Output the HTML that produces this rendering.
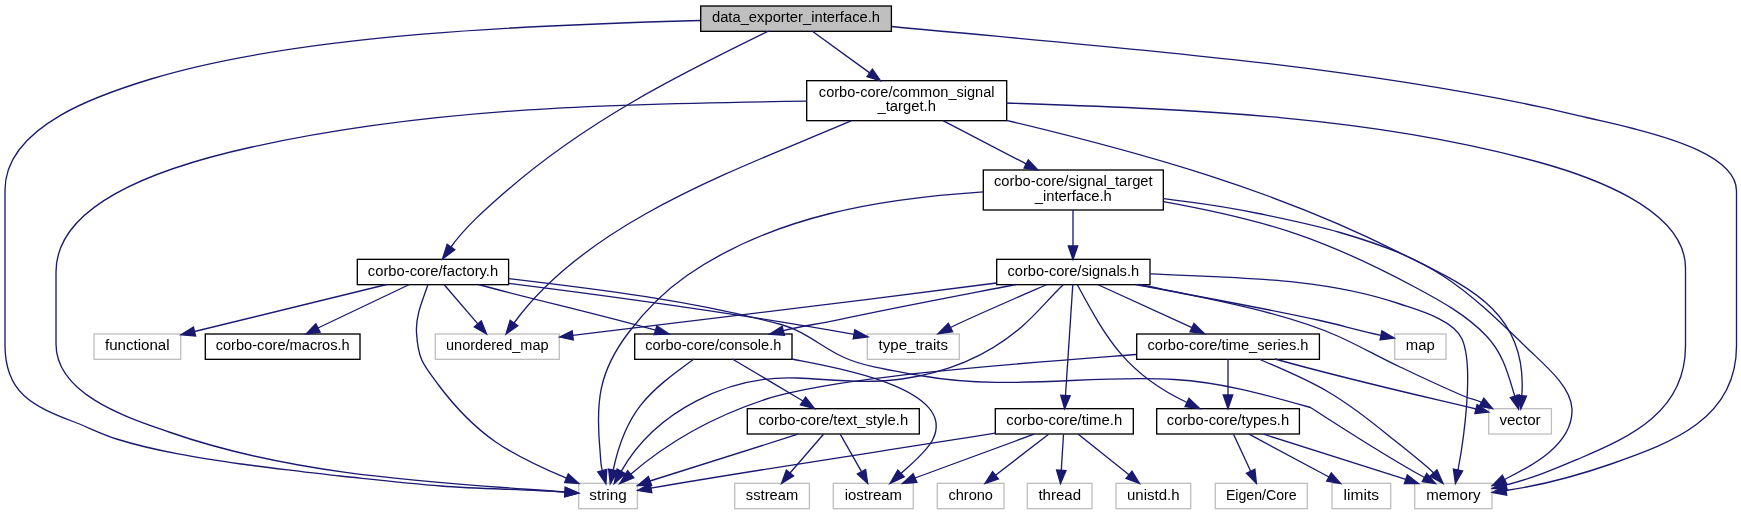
<!DOCTYPE html>
<html><head><meta charset="utf-8"><title>data_exporter_interface.h include graph</title>
<style>html,body{margin:0;padding:0;background:#fff}svg{display:block;will-change:transform}</style></head>
<body>
<svg width="1741" height="515" viewBox="0 0 1741 515">
<rect x="0" y="0" width="1741" height="515" fill="#fff"/>
<rect x="700.7" y="6.00" width="190.7" height="25.33" fill="#bfbfbf" stroke="#000" stroke-width="1.33"/>
<rect x="806.7" y="80.67" width="200.0" height="40.00" fill="#fff" stroke="#000" stroke-width="1.33"/>
<rect x="983.3" y="170.00" width="180.0" height="40.00" fill="#fff" stroke="#000" stroke-width="1.33"/>
<rect x="357.3" y="259.33" width="151.3" height="25.33" fill="#fff" stroke="#000" stroke-width="1.33"/>
<rect x="996.7" y="259.33" width="153.3" height="25.33" fill="#fff" stroke="#000" stroke-width="1.33"/>
<rect x="94.0" y="334.00" width="86.7" height="25.33" fill="#fff" stroke="#bfbfbf" stroke-width="1.33"/>
<rect x="205.3" y="334.00" width="154.7" height="25.33" fill="#fff" stroke="#000" stroke-width="1.33"/>
<rect x="435.3" y="334.00" width="124.0" height="25.33" fill="#fff" stroke="#bfbfbf" stroke-width="1.33"/>
<rect x="634.7" y="334.00" width="157.3" height="25.33" fill="#fff" stroke="#000" stroke-width="1.33"/>
<rect x="867.3" y="334.00" width="92.0" height="25.33" fill="#fff" stroke="#bfbfbf" stroke-width="1.33"/>
<rect x="1136.7" y="334.00" width="182.7" height="25.33" fill="#fff" stroke="#000" stroke-width="1.33"/>
<rect x="1394.7" y="334.00" width="51.3" height="25.33" fill="#fff" stroke="#bfbfbf" stroke-width="1.33"/>
<rect x="747.3" y="408.67" width="172.0" height="25.33" fill="#fff" stroke="#000" stroke-width="1.33"/>
<rect x="995.3" y="408.67" width="138.0" height="25.33" fill="#fff" stroke="#000" stroke-width="1.33"/>
<rect x="1156.7" y="408.67" width="142.7" height="25.33" fill="#fff" stroke="#000" stroke-width="1.33"/>
<rect x="1488.7" y="408.67" width="62.7" height="25.33" fill="#fff" stroke="#bfbfbf" stroke-width="1.33"/>
<rect x="578.7" y="483.33" width="58.7" height="25.33" fill="#fff" stroke="#bfbfbf" stroke-width="1.33"/>
<rect x="734.7" y="483.33" width="74.7" height="25.33" fill="#fff" stroke="#bfbfbf" stroke-width="1.33"/>
<rect x="833.3" y="483.33" width="80.0" height="25.33" fill="#fff" stroke="#bfbfbf" stroke-width="1.33"/>
<rect x="937.3" y="483.33" width="66.7" height="25.33" fill="#fff" stroke="#bfbfbf" stroke-width="1.33"/>
<rect x="1027.3" y="483.33" width="64.7" height="25.33" fill="#fff" stroke="#bfbfbf" stroke-width="1.33"/>
<rect x="1116.0" y="483.33" width="74.7" height="25.33" fill="#fff" stroke="#bfbfbf" stroke-width="1.33"/>
<rect x="1215.3" y="483.33" width="92.0" height="25.33" fill="#fff" stroke="#bfbfbf" stroke-width="1.33"/>
<rect x="1332.0" y="483.33" width="58.7" height="25.33" fill="#fff" stroke="#bfbfbf" stroke-width="1.33"/>
<rect x="1414.7" y="483.33" width="77.3" height="25.33" fill="#fff" stroke="#bfbfbf" stroke-width="1.33"/>
<g fill="none" stroke="#191970" stroke-width="1.33">
<path d="M700.2,20.5C541.1,24.9 302.3,33.0 151.0,79.0C105.2,92.9 5.0,124.3 5.0,190.0L5.0,345.0C5.0,393.3 32.8,406.1 73.0,421.5C87.6,427.1 101.6,434.3 116.5,439.0C156.3,451.4 199.8,458.0 241.0,464.0C252.7,465.7 320.8,474.0 340.0,476.0C373.7,479.5 407.3,483.3 441.0,486.0C482.3,489.3 523.7,489.1 565.0,492.2"/>
<path d="M807.0,101.2C621.8,103.5 433.7,106.8 252.0,147.0C197.2,159.1 56.0,193.5 56.0,272.0L56.0,344.0C56.0,395.5 130.3,418.5 169.0,432.0C295.5,476.2 432.6,482.2 565.0,492.0"/>
<path d="M768.8,31.0C672.9,77.7 585.0,122.2 504.0,193.0C486.3,208.5 465.0,227.2 451.0,247.0"/>
<path d="M812.0,31.0L869.7,72.9"/>
<path d="M891.5,26.5C1106.2,47.1 1328.8,62.5 1540.0,106.8C1555.6,110.1 1571.0,113.9 1586.5,117.5C1602.0,121.1 1617.6,124.4 1633.0,128.5C1658.4,135.2 1736.5,154.1 1736.5,191.0L1736.5,346.0C1736.5,418.8 1671.6,442.9 1612.5,463.5C1577.0,475.9 1543.2,485.1 1506.0,490.5"/>
<path d="M851.5,120.7C742.5,167.7 589.2,219.6 514.0,323.0"/>
<path d="M943.0,120.7L1026.2,163.9"/>
<path d="M1006.4,120.3C1141.4,152.4 1274.8,189.7 1399.0,252.3C1463.3,284.7 1528.3,309.0 1521.8,395.7"/>
<path d="M1006.4,103.0C1184.2,109.3 1367.4,114.6 1540.0,162.5C1584.1,174.8 1685.5,207.5 1685.5,268.0L1685.5,346.0C1685.5,410.8 1632.1,436.4 1579.5,458.5C1552.2,470.0 1534.2,477.8 1506.0,485.0"/>
<path d="M983.3,191.9C881.0,198.6 773.5,215.6 687.0,275.5C663.1,292.0 646.6,309.0 629.0,332.0C598.4,371.9 595.6,402.2 600.0,450.5C600.6,457.2 600.5,464.1 602.3,470.6"/>
<path d="M1073.0,210.0L1073.0,246.0"/>
<path d="M1163.4,201.7C1268.0,220.6 1324.1,238.2 1417.5,288.5C1441.7,301.5 1466.1,315.0 1485.5,335.0C1502.9,352.9 1507.9,373.3 1514.8,396.3"/>
<path d="M1163.4,198.6C1205.9,204.2 1216.9,204.8 1258.5,213.5C1285.8,219.2 1313.2,224.7 1340.0,232.5C1433.7,259.7 1460.7,283.7 1528.0,349.0C1542.9,363.4 1571.2,386.2 1572.0,409.0C1573.2,444.7 1531.3,466.3 1504.5,479.5"/>
<path d="M386.7,284.5L194.5,331.5"/>
<path d="M409.4,284.5L318.0,328.0"/>
<path d="M428.0,284.5C422.7,300.3 415.5,315.3 416.5,332.5C418.1,359.2 422.7,364.0 438.5,385.0C476.7,435.8 508.3,453.6 566.5,478.2"/>
<path d="M444.0,284.5L477.8,323.9"/>
<path d="M478.2,284.5C537.0,300.4 596.9,313.7 655.5,330.2"/>
<path d="M508.8,283.3C624.1,297.8 739.6,313.9 854.0,334.3"/>
<path d="M508.8,278.7C600.5,289.6 691.8,300.5 781.0,324.5C805.5,331.1 820.7,346.6 843.0,357.0C864.8,367.2 897.6,371.4 920.0,375.5C1007.5,391.4 1087.9,374.3 1174.5,379.5C1222.4,382.4 1264.7,394.6 1310.5,407.5C1347.9,431.5 1385.5,456.2 1424.5,477.5"/>
<path d="M996.4,283.0C855.3,301.5 714.0,318.0 572.7,335.4"/>
<path d="M1016.0,284.5C955.7,296.2 895.5,307.4 835.5,320.3C818.2,324.0 800.5,326.2 783.3,330.7"/>
<path d="M1047.0,284.5C1031.7,291.2 970.0,317.8 950.5,327.5"/>
<path d="M1063.5,284.5C1049.2,298.1 1036.8,313.6 1022.0,326.5C988.1,356.1 946.1,372.7 902.0,379.0C866.1,384.2 833.2,379.6 797.5,378.0C729.3,375.0 655.4,410.8 621.2,471.3"/>
<path d="M1072.8,284.5L1065.5,395.5"/>
<path d="M1077.2,284.5C1107.2,340.3 1127.3,374.5 1187.0,402.5"/>
<path d="M1097.6,284.5L1192.0,327.6"/>
<path d="M1135.5,284.5C1196.9,296.4 1258.9,307.0 1320.0,320.5C1340.4,325.0 1360.5,331.1 1381.0,335.3"/>
<path d="M1139.5,284.5C1199.9,296.9 1281.8,311.4 1337.5,336.0C1358.8,345.4 1378.9,357.1 1400.0,367.0C1421.9,377.2 1443.7,387.7 1466.0,397.0C1471.0,399.1 1476.7,399.6 1481.5,402.3"/>
<path d="M1150.3,273.9C1232.0,278.0 1321.4,276.9 1400.0,304.0C1417.0,309.8 1453.1,319.3 1462.0,339.0C1474.3,366.3 1463.6,440.7 1458.0,470.0"/>
<path d="M694.0,359.0C647.8,392.4 625.7,410.9 613.2,470.0"/>
<path d="M732.3,359.0L803.0,401.0"/>
<path d="M791.5,359.0C820.0,364.9 961.0,385.7 932.5,440.0C926.1,452.3 910.5,464.7 901.0,473.5"/>
<path d="M1136.4,354.5C1057.5,360.6 839.2,375.1 765.0,399.5C716.3,415.5 669.5,440.7 630.7,474.2"/>
<path d="M1228.0,359.0L1228.0,395.0"/>
<path d="M1258.6,359.0C1319.1,384.3 1339.5,395.3 1389.0,436.0C1395.1,441.0 1426.7,465.5 1433.5,473.0"/>
<path d="M1275.0,359.0C1341.6,377.8 1408.7,393.0 1476.0,409.0"/>
<path d="M798.0,434.2L650.0,481.0"/>
<path d="M823.5,434.2L790.0,473.0"/>
<path d="M840.2,434.2L861.5,471.7"/>
<path d="M995.3,433.2C881.3,451.5 763.8,468.6 651.0,488.1"/>
<path d="M1034.0,434.2L915.0,478.0"/>
<path d="M1048.6,434.2L995.5,475.3"/>
<path d="M1063.5,434.2L1061.3,470.3"/>
<path d="M1078.3,434.2L1129.0,474.8"/>
<path d="M1233.5,434.2L1250.7,471.3"/>
<path d="M1249.0,434.2L1329.0,477.0"/>
<path d="M1263.6,434.2L1405.8,479.3"/>
</g>
<g fill="#191970" stroke="#191970" stroke-width="1.33" stroke-linejoin="miter">
<polygon points="564.7,496.9 578.5,493.2 565.3,487.5"/>
<polygon points="564.7,496.7 578.5,493.0 565.3,487.3"/>
<polygon points="447.2,244.3 442.5,259.0 454.8,249.7"/>
<polygon points="867.0,76.7 880.5,80.7 872.4,69.1"/>
<polygon points="1505.3,485.9 1492.3,492.5 1506.7,495.1"/>
<polygon points="510.2,320.3 506.0,334.0 517.8,325.7"/>
<polygon points="1024.1,168.0 1038.0,170.0 1028.3,159.8"/>
<polygon points="1517.1,395.3 1520.8,409.0 1526.5,396.1"/>
<polygon points="1504.8,480.5 1492.3,488.5 1507.2,489.5"/>
<polygon points="597.8,471.8 605.9,483.7 606.8,469.4"/>
<polygon points="1068.3,246.0 1073.0,259.4 1077.7,246.0"/>
<polygon points="1510.3,397.6 1518.6,409.0 1519.3,395.0"/>
<polygon points="1502.4,475.3 1492.3,485.5 1506.6,483.7"/>
<polygon points="193.4,327.0 181.0,334.7 195.6,336.0"/>
<polygon points="315.9,323.8 306.0,334.0 320.1,332.2"/>
<polygon points="564.7,482.5 578.8,483.4 568.3,473.9"/>
<polygon points="474.3,326.9 486.5,334.0 481.3,320.9"/>
<polygon points="654.2,334.7 669.0,334.0 656.8,325.7"/>
<polygon points="853.2,338.9 868.0,336.8 854.8,329.7"/>
<polygon points="1422.3,481.6 1435.5,483.5 1426.7,473.4"/>
<polygon points="572.1,330.8 559.7,337.0 573.3,340.0"/>
<polygon points="782.1,326.2 769.5,334.3 784.5,335.2"/>
<polygon points="948.4,323.3 938.0,333.7 952.6,331.7"/>
<polygon points="617.1,469.0 614.2,483.7 625.3,473.6"/>
<polygon points="1060.8,395.2 1064.6,408.8 1070.2,395.8"/>
<polygon points="1185.0,406.7 1199.8,408.5 1189.0,398.3"/>
<polygon points="1190.0,331.8 1204.3,333.6 1194.0,323.4"/>
<polygon points="1380.1,339.9 1394.3,338.0 1381.9,330.7"/>
<polygon points="1479.2,406.4 1492.5,408.5 1483.8,398.2"/>
<polygon points="1453.4,469.1 1455.4,483.5 1462.6,470.9"/>
<polygon points="608.6,469.0 610.3,483.7 617.8,471.0"/>
<polygon points="800.4,404.9 814.5,408.6 805.6,397.1"/>
<polygon points="897.8,470.1 890.0,483.6 904.2,476.9"/>
<polygon points="627.6,470.7 619.7,483.7 633.8,477.7"/>
<polygon points="1223.3,395.0 1228.0,408.6 1232.7,395.0"/>
<polygon points="1430.0,476.1 1443.0,483.5 1437.0,469.9"/>
<polygon points="1474.9,413.5 1488.6,412.0 1477.1,404.5"/>
<polygon points="648.4,476.6 637.5,485.5 651.6,485.4"/>
<polygon points="786.4,470.1 781.5,483.5 793.6,475.9"/>
<polygon points="857.4,473.9 867.7,483.5 865.6,469.5"/>
<polygon points="650.2,483.5 637.7,490.4 651.8,492.7"/>
<polygon points="913.1,473.7 902.5,483.5 916.9,482.3"/>
<polygon points="992.6,471.6 985.0,483.5 998.4,479.0"/>
<polygon points="1056.6,470.0 1060.5,483.5 1066.0,470.6"/>
<polygon points="1126.0,478.4 1139.5,483.5 1132.0,471.2"/>
<polygon points="1246.5,473.3 1256.4,483.5 1254.9,469.3"/>
<polygon points="1326.7,481.1 1340.6,483.5 1331.3,472.9"/>
<polygon points="1404.3,483.7 1418.5,483.5 1407.3,474.9"/>
</g>
<g font-family="'Liberation Sans', sans-serif" font-size="14" fill="#000" text-anchor="middle">
<text x="796.0" y="22.4" textLength="168.1" lengthAdjust="spacingAndGlyphs">data_exporter_interface.h</text>
<text x="906.7" y="96.7" textLength="175.7" lengthAdjust="spacingAndGlyphs">corbo-core/common_signal</text>
<text x="906.7" y="111.3" textLength="58.4" lengthAdjust="spacingAndGlyphs">_target.h</text>
<text x="1073.3" y="186.0" textLength="158.6" lengthAdjust="spacingAndGlyphs">corbo-core/signal_target</text>
<text x="1073.3" y="200.7" textLength="76.9" lengthAdjust="spacingAndGlyphs">_interface.h</text>
<text x="433.0" y="275.7" textLength="130.4" lengthAdjust="spacingAndGlyphs">corbo-core/factory.h</text>
<text x="1073.3" y="275.7" textLength="131.7" lengthAdjust="spacingAndGlyphs">corbo-core/signals.h</text>
<text x="137.3" y="350.4" textLength="64.7" lengthAdjust="spacingAndGlyphs">functional</text>
<text x="282.7" y="350.4" textLength="134.1" lengthAdjust="spacingAndGlyphs">corbo-core/macros.h</text>
<text x="497.3" y="350.4" textLength="102.5" lengthAdjust="spacingAndGlyphs">unordered_map</text>
<text x="713.3" y="350.4" textLength="136.2" lengthAdjust="spacingAndGlyphs">corbo-core/console.h</text>
<text x="913.3" y="350.4" textLength="69.4" lengthAdjust="spacingAndGlyphs">type_traits</text>
<text x="1228.0" y="350.4" textLength="160.9" lengthAdjust="spacingAndGlyphs">corbo-core/time_series.h</text>
<text x="1420.3" y="350.4" textLength="28.9" lengthAdjust="spacingAndGlyphs">map</text>
<text x="833.3" y="425.0" textLength="149.8" lengthAdjust="spacingAndGlyphs">corbo-core/text_style.h</text>
<text x="1064.3" y="425.0" textLength="115.9" lengthAdjust="spacingAndGlyphs">corbo-core/time.h</text>
<text x="1228.0" y="425.0" textLength="122.3" lengthAdjust="spacingAndGlyphs">corbo-core/types.h</text>
<text x="1520.0" y="425.0" textLength="41.2" lengthAdjust="spacingAndGlyphs">vector</text>
<text x="608.0" y="499.7" textLength="37.3" lengthAdjust="spacingAndGlyphs">string</text>
<text x="772.0" y="499.7" textLength="52.3" lengthAdjust="spacingAndGlyphs">sstream</text>
<text x="873.3" y="499.7" textLength="57.1" lengthAdjust="spacingAndGlyphs">iostream</text>
<text x="970.7" y="499.7" textLength="44.6" lengthAdjust="spacingAndGlyphs">chrono</text>
<text x="1059.7" y="499.7" textLength="42.6" lengthAdjust="spacingAndGlyphs">thread</text>
<text x="1153.3" y="499.7" textLength="52.6" lengthAdjust="spacingAndGlyphs">unistd.h</text>
<text x="1261.3" y="499.7" textLength="70.8" lengthAdjust="spacingAndGlyphs">Eigen/Core</text>
<text x="1361.3" y="499.7" textLength="35.4" lengthAdjust="spacingAndGlyphs">limits</text>
<text x="1453.3" y="499.7" textLength="54.3" lengthAdjust="spacingAndGlyphs">memory</text>
</g>
</svg>
</body></html>
